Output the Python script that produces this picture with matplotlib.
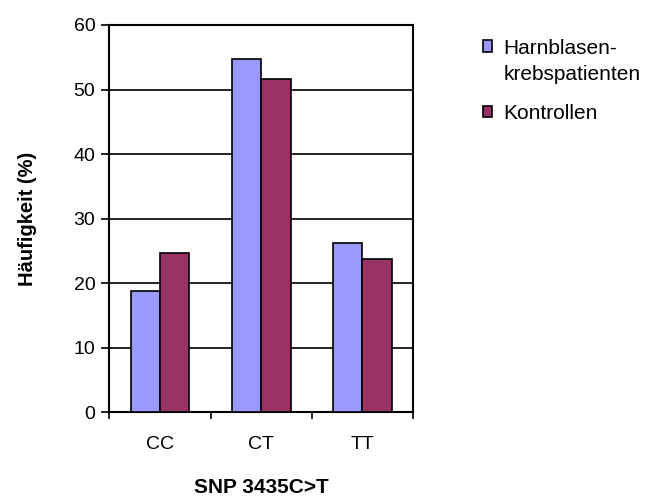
import matplotlib
matplotlib.use("Agg")
import matplotlib.pyplot as plt
import matplotlib.patches as mpatches
from matplotlib.legend_handler import HandlerPatch
import numpy as np

plt.rcParams['font.family'] = ['Liberation Sans', 'DejaVu Sans']

genotypes = ["CC", "CT", "TT"]
patienten = [18.8, 54.7, 26.2]
kontrollen = [24.7, 51.6, 23.7]
series_labels = ["Harnblasen-\nkrebspatienten", "Kontrollen"]

fig = plt.figure(figsize=(6.49, 4.97), dpi=100)
ax = fig.add_axes([0.1684, 0.1704, 0.468, 0.7793])

x = np.arange(len(genotypes))
w = 0.29
b1 = ax.bar(x - w / 2, patienten, w, color="#9999FF", edgecolor="black", linewidth=1.2,
            zorder=3)
b2 = ax.bar(x + w / 2, kontrollen, w, color="#993366", edgecolor="black", linewidth=1.2,
            zorder=3)

ax.set_xlim(-0.5, 2.5)
ax.set_ylim(0, 60)
ax.set_yticks(range(0, 61, 10))
ax.yaxis.grid(True, color="black", linewidth=1.2, zorder=0)

# category ticks sit between the groups, labels in the middle
ax.set_xticks([-0.5, 0.5, 1.5, 2.5])
ax.set_xticklabels([])
ax.set_xticks(x, minor=True)
ax.set_xticklabels(genotypes, minor=True)
ax.tick_params(axis="x", which="minor", length=0, pad=17, labelsize=14)
ax.tick_params(axis="x", which="major", length=5, width=1.2, direction="out")
ax.tick_params(axis="y", length=6, width=1.2, direction="out", labelsize=14, pad=4)

for s in ax.spines.values():
    s.set_linewidth(1.5)
    s.set_color("black")

ax.set_ylabel("Häufigkeit (%)", fontweight="bold", fontsize=14.5)
ax.set_xlabel("SNP 3435C>T", fontweight="bold", fontsize=15)
ax.yaxis.set_label_coords(-0.239, 0.5)
ax.xaxis.set_label_coords(0.5, -0.170)


def square_on_first_line(legend, orig_handle, xdescent, ydescent, width, height, fontsize):
    # lift the marker to the first line of a two-line label
    return mpatches.Rectangle((-xdescent, -ydescent + 0.75 * fontsize), width, height)


h1, h2 = b1.patches[0], b2.patches[0]
leg = ax.legend([h1, h2], series_labels, loc="upper left", bbox_to_anchor=(0.744, 0.922),
                bbox_transform=fig.transFigure, frameon=False,
                fontsize=15, handlelength=0.45, handleheight=0.45,
                handletextpad=0.55, labelspacing=0.95, borderpad=0, borderaxespad=0,
                handler_map={h1: HandlerPatch(patch_func=square_on_first_line)})
for t in leg.get_texts():
    t.set_linespacing(1.5)

fig.savefig("out.png", dpi=100)
